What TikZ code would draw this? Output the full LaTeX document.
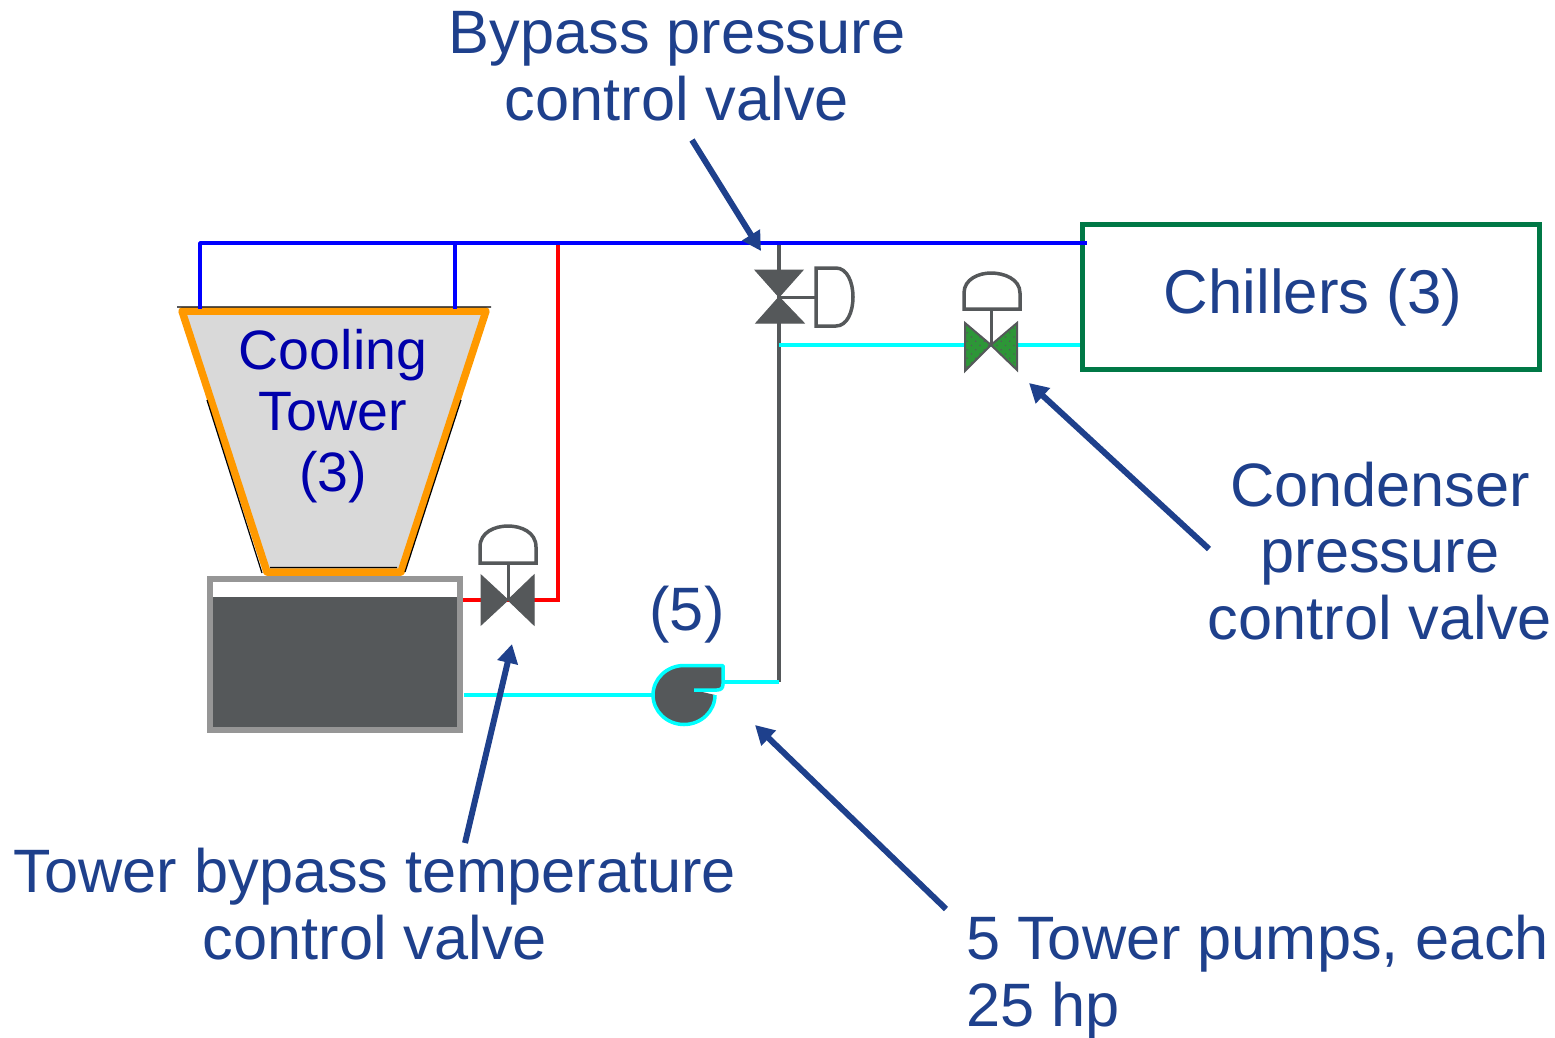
\documentclass[tikz,border=0pt]{standalone}
\usepackage{fontspec}
\setmainfont{Liberation Sans}
\usetikzlibrary{arrows.meta,patterns.meta}
\definecolor{labelblue}{RGB}{30,64,140}
\definecolor{towerblue}{RGB}{0,0,170}
\definecolor{valvegray}{RGB}{85,88,90}
\definecolor{framegray}{RGB}{150,150,150}
\definecolor{towerorange}{RGB}{255,153,0}
\definecolor{chillergreen}{RGB}{0,120,70}
\definecolor{valvegreen}{RGB}{45,150,55}
\definecolor{pipecyan}{RGB}{0,255,255}
\definecolor{pipeblue}{RGB}{0,0,255}
\tikzset{
  label text/.style={text=labelblue,inner sep=0pt,align=center,font=\fontsize{61.3}{66.5}\selectfont},
  tower text/.style={text=towerblue,inner sep=0pt,align=center,font=\fontsize{55.5}{61}\selectfont},
  note arrow/.style={draw=labelblue,line width=6pt,-{Triangle[length=19pt,width=20pt]}},
  blue pipe/.style={draw=pipeblue,line width=3.5pt},
  red pipe/.style={draw=red,line width=3.5pt},
  cyan pipe/.style={draw=pipecyan,line width=3.5pt},
  gray pipe/.style={draw=valvegray,line width=3.5pt},
  valve body/.style={fill=valvegray,draw=valvegray,line width=1pt,line join=miter},
  valve head/.style={draw=valvegray,line width=3.5pt,fill=white},
}
\begin{document}
\begin{tikzpicture}[x=1pt,y=1pt,yscale=-1,xscale=1]
\useasboundingbox (0,0) rectangle (1555,1037);

% Named points
\coordinate (topleft) at (200,243);
\coordinate (topright) at (1087,243);
\coordinate (towerleft) at (200,309);
\coordinate (topmid) at (455,243);
\coordinate (towermid) at (455,309);
\coordinate (redtop) at (558,243);
\coordinate (redcorner) at (558,600);
\coordinate (bypasstop) at (779,243);
\coordinate (bypass) at (779,297);
\coordinate (teejoin) at (779,345);
\coordinate (pumpjoin) at (779,682);
\coordinate (pumpout) at (724,682);
\coordinate (pumpin) at (653,695);
\coordinate (basinout) at (464,695);
\coordinate (basinred) at (459,600);
\coordinate (tempvalve) at (508,600);
\coordinate (condvalve) at (991,345);

% Chillers
\node (chillers) at (1311,297) [draw=chillergreen,line width=5pt,minimum width=457pt,minimum height=145pt,inner sep=0pt,text=labelblue,font=\fontsize{61.8}{66.5}\selectfont] {\hspace*{4pt}\raisebox{-10pt}{Chillers (3)}};

%Pipes
\draw [red pipe] (redtop) -- (redcorner) -- (tempvalve);
\draw [red pipe] (basinred) -- (tempvalve);
\draw [gray pipe] (bypasstop) -- (pumpjoin);
\draw [blue pipe,line join=round] (towerleft) -- (topleft) -- (topright);
\draw [blue pipe] (topmid) -- (towermid);
\draw [cyan pipe] (teejoin) -- (condvalve);
\draw [cyan pipe] (condvalve) -- (chillers.west |- condvalve);
\draw [cyan pipe] (basinout) -- (pumpin);
\draw [cyan pipe] (pumpout) -- (pumpjoin);

%Cooling tower
\draw [draw=towerorange,fill={rgb,255:red,217;green,217;blue,217},line width=7.5pt,line join=round] (182,311) -- (486,311) -- (401,572) -- (267,572) -- cycle;
\draw [black,line width=1.2pt] (177,307) -- (491,307) (207,400) -- (262,573) (461,400) -- (405,572) (270,567.5) -- (397,567.5);
\draw [blue pipe] (topmid) -- (towermid);
\draw [blue pipe] (topleft) -- (towerleft);
\node (tower) at (333,416) [tower text] {Cooling\\Tower\\(3)};

%Basin
\draw [draw=framegray,fill=white,line width=6pt] (210,578.5) rectangle (460,729.5);
\fill [valvegray] (213,597) rectangle (457,726.5);

%Tower bypass valve
\draw [valve body] (tempvalve) -- (481,575) -- (481,625) -- cycle;
\draw [valve body] (tempvalve) -- (534,575) -- (534,625) -- cycle;
\draw [gray pipe,line width=3pt] (tempvalve) -- (508,563);
\draw [valve head] (480,563) -- (480,547) .. controls (480,532) and (495,526) .. (508,526) .. controls (521,526) and (536,532) .. (536,547) -- (536,563) -- cycle;

%Bypass valve
\draw [valve body] (bypass) -- (755,270) -- (803,270) -- cycle;
\draw [valve body] (bypass) -- (756,323) -- (804,323) -- cycle;
\draw [gray pipe,line width=3pt] (bypass) -- (816,297);
\draw [valve head] (816,268) -- (836,268) .. controls (847,268) and (853,282) .. (853,297) .. controls (853,312) and (847,326) .. (836,326) -- (816,326) -- cycle;

%Condenser valve
\draw [valve body,fill=valvegreen,line width=2pt] (condvalve) -- (965,323) -- (965,371) -- cycle;
\draw [valve body,fill=valvegreen,line width=2pt] (condvalve) -- (1017,323) -- (1017,370) -- cycle;
\fill [pattern={Dots[distance=6pt,radius=0.9pt,angle=45]},pattern color=valvegray] (condvalve) -- (965,323) -- (965,371) -- cycle;
\fill [pattern={Dots[distance=6pt,radius=0.9pt,angle=45]},pattern color=valvegray] (condvalve) -- (1017,323) -- (1017,370) -- cycle;
\draw [gray pipe,line width=3pt] (condvalve) -- (991,310);
\draw [valve head] (964,309) -- (964,293) .. controls (964,279) and (979,273) .. (991,273) .. controls (1004,273) and (1020,279) .. (1020,293) -- (1020,309) -- cycle;

%Pump
\draw [draw=pipecyan,fill=valvegray,line width=3.5pt,line join=round] (715,695) arc (0:270:31 and 29.5) -- (723,665.5) -- (723,684) .. controls (723,688) and (721,690) .. (717,690) -- (694,690);

% Text Node
\node (bypasslabel) at (677,66) [label text] {Bypass pressure\\control valve};
% Text Node
\node (condlabel) at (1380,551) [label text] {Condenser\\pressure\\control valve};
% Text Node
\node (templabel) at (375,904) [label text] {Tower bypass temperature\\control valve};
% Text Node
\node (pumplabel) at (966,977) [label text,anchor=west,align=left] {5 Tower pumps, each\\25 hp};
% Text Node
\node (pumpcount) at (687,615) [label text] {(5)};

%Arrows
\coordinate (bypassfrom) at (692,140);
\coordinate (bypassto) at (761,251);
\coordinate (condfrom) at (1209,549);
\coordinate (condto) at (1029,383);
\coordinate (tempfrom) at (465,843);
\coordinate (tempto) at (512,644);
\coordinate (pumpfrom) at (946,909);
\coordinate (pumpto) at (755,725);
\draw [note arrow] (bypassfrom) -- (bypassto);
\draw [note arrow] (condfrom) -- (condto);
\draw [note arrow] (tempfrom) -- (tempto);
\draw [note arrow] (pumpfrom) -- (pumpto);

\end{tikzpicture}
\end{document}
